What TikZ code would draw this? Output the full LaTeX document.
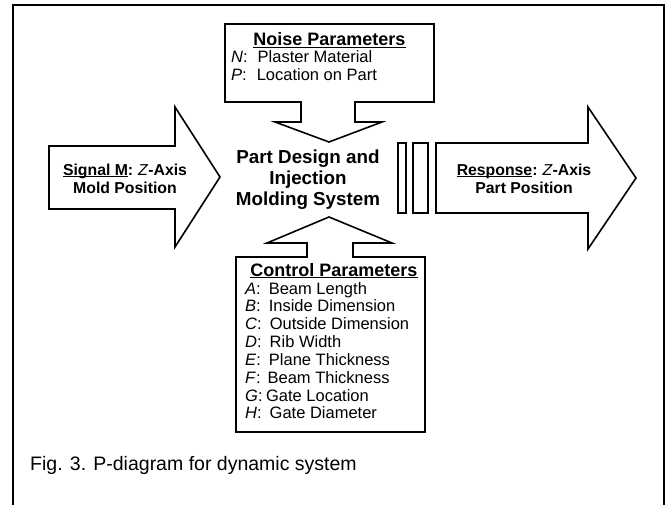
\documentclass[tikz,border=0pt]{standalone}
\usepackage{fontspec}
\setmainfont{Liberation Sans}
\colorlet{linecol}{black}
\tikzstyle{blockarrow}=[draw=linecol,line width=1.6,line join=miter,fill=white]
\tikzstyle{frameline}=[draw=linecol,line width=2]
\tikzset{
  boxtitle/.style={font=\fontsize{18}{20}\selectfont\bfseries,anchor=base,inner sep=0},
  item/.style={font=\fontsize{16.5}{18}\selectfont,anchor=base west,inner sep=0},
  arrowtext/.style={font=\fontsize{15.8}{18}\selectfont\bfseries,align=center,inner sep=0},
}

\begin{document}
\begin{tikzpicture}[x=1pt,y=-1pt]
  \useasboundingbox (0,0) rectangle (666,505);

  % FRAME (open at the bottom)
  \draw[frameline] (13,505) -- (13,5) -- (664,5) -- (664,505);

  % NOISE ARROW
  \draw[blockarrow]
    (225,24) -- (434,24) -- (434,102) -- (355,102) -- (355,122) -- (382,122)
    -- (329,142) -- (275,122) -- (301,122) -- (301,102) -- (225,102) -- cycle;
  \node[boxtitle] (noise) at (329.5,45.5) {\underbar{Noise Parameters}};
  \node[item] (noiseN) at (231,63) {\textit{N}:\hspace{10pt}Plaster Material};
  \node[item] (noiseP) at (231,81) {\textit{P}:\hspace{10pt}Location on Part};

  % SIGNAL ARROW
  \draw[blockarrow]
    (49,146) -- (175,146) -- (175,107) -- (220,177) -- (175,247) -- (175,209)
    -- (49,209) -- cycle;
  \node[arrowtext] (signal) at (125,178.5)
    {\underbar{Signal M}:\hspace{5pt}\textnormal{\itshape Z}-Axis\\Mold Position};

  % SYSTEM
  \node[font=\fontsize{18.8}{21}\selectfont\bfseries,align=center,inner sep=0]
    (system) at (308,180) {Part Design and\\Injection\\Molding System};
  \draw[blockarrow] (398,143) rectangle (406,213);
  \draw[blockarrow] (413,143) rectangle (428,213);

  % RESPONSE ARROW
  \draw[blockarrow]
    (436,143) -- (588,143) -- (588,107) -- (636,178) -- (588,249) -- (588,213)
    -- (436,213) -- cycle;
  \node[arrowtext] (response) at (524,178.5)
    {\underbar{Response}:\hspace{5pt}\textnormal{\itshape Z}-Axis\\Part Position};

  % CONTROL ARROW
  \draw[blockarrow]
    (236,432) -- (236,257) -- (307,257) -- (307,243) -- (267,243) -- (329,217)
    -- (392,243) -- (353,243) -- (353,257) -- (425,257) -- (425,432) -- cycle;
  \node[boxtitle] (control) at (334,276) {\underbar{Control Parameters}};
  \foreach \lt/\txt/\gap [count=\i] in {A/Beam Length/8, B/Inside Dimension/8,
      C/Outside Dimension/8, D/Rib Width/8, E/Plane Thickness/8,
      F/Beam Thickness/7, G/Gate Location/3.5, H/Gate Diameter/8}{
    \node[item] (ctl\i) at (245,{294+17.85*(\i-1)}) {\textit{\lt}:\hspace{\gap pt}\txt};
  }

  % CAPTION
  \node[font=\fontsize{19.5}{22}\selectfont,anchor=west,inner sep=0]
    (caption) at (30,465) {Fig. 3. P-diagram for dynamic system};

\end{tikzpicture}
\end{document}
